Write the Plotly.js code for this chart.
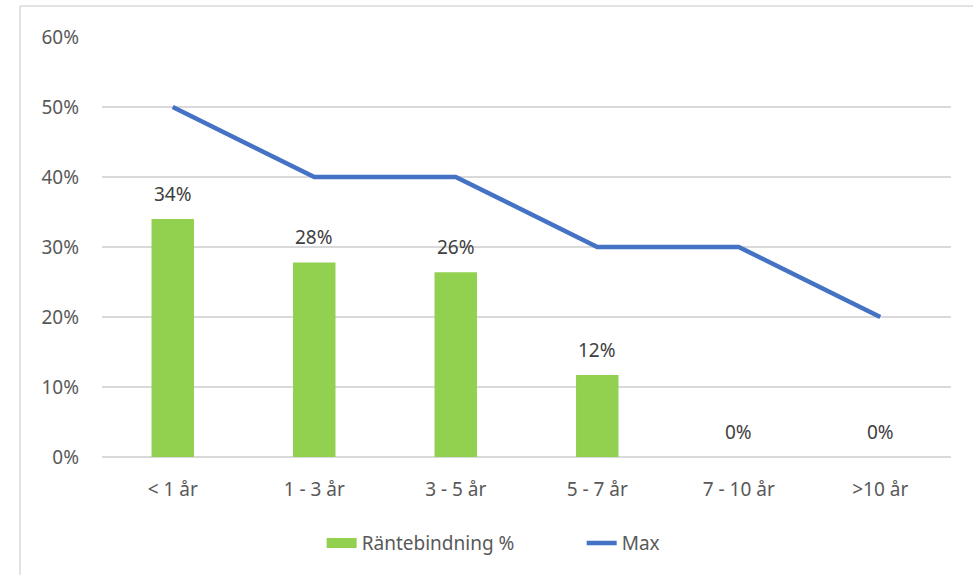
<!DOCTYPE html>
<html>
<head>
<meta charset="utf-8">
<script src="https://cdn.plot.ly/plotly-3.0.1.min.js"></script>
<style>html,body{margin:0;padding:0;background:#fff;}#chart{width:973px;height:575px;}</style>
</head>
<body>
<div id="chart"></div>
<script>
const categories = ["< 1 år", "1 - 3 år", "3 - 5 år", "5 - 7 år", "7 - 10 år", ">10 år"];
const rantebindning = [0.34, 0.278, 0.264, 0.117, 0, 0];
const maxValues = [0.5, 0.4, 0.4, 0.3, 0.3, 0.2];
const barName = "Räntebindning %";
const lineName = "Max";

const fontFam = "'Noto Sans', 'Open Sans', sans-serif";
const FS = 19;

const traces = [
  {
    type: "bar", x: categories, y: rantebindning, name: barName,
    marker: {color: "#92D050"}, hoverinfo: "skip", showlegend: false
  },
  {
    // legend entry for the bars (wide swatch like the original)
    type: "scatter", mode: "lines", x: [null], y: [null], name: barName,
    line: {color: "#92D050", width: 12}, hoverinfo: "skip", showlegend: true
  },
  {
    type: "scatter", mode: "lines", x: categories, y: maxValues, name: lineName,
    line: {color: "#4472C4", width: 4.5}, hoverinfo: "skip"
  }
];

const annotations = categories.map((c, i) => ({
  x: c, y: rantebindning[i], xref: "x", yref: "y",
  text: Math.round(rantebindning[i] * 100) + "%",
  showarrow: false, yanchor: "bottom", yshift: 10,
  font: {family: fontFam, size: FS, color: "#404040"}
}));

const layout = {
  width: 973, height: 575,
  margin: {l: 102, r: 22, t: 37, b: 118},
  paper_bgcolor: "#fff", plot_bgcolor: "#fff",
  font: {family: fontFam, size: FS, color: "#595959"},
  bargap: 0.7,
  showlegend: true,
  legend: {orientation: "h", x: 0.565, xanchor: "center", y: -0.205, yanchor: "middle",
           entrywidth: 215, entrywidthmode: "pixels",
           font: {family: fontFam, size: FS, color: "#595959"}, traceorder: "normal"},
  xaxis: {type: "category", showgrid: false, showline: false, zeroline: false, ticks: "",
          ticklabelstandoff: 19,
          tickfont: {family: fontFam, size: FS, color: "#595959"}, automargin: false},
  yaxis: {range: [0, 0.6], dtick: 0.1, tickformat: ".0%", showgrid: true, gridcolor: "#D9D9D9",
          gridwidth: 1.5, zeroline: true, zerolinecolor: "#D9D9D9", zerolinewidth: 1.5,
          showline: false, ticks: "", ticklabelstandoff: 22,
          tickfont: {family: fontFam, size: FS, color: "#595959"}, automargin: false},
  annotations: annotations,
  shapes: [
    {type: "line", xref: "paper", yref: "paper", x0: -0.0966, x1: -0.0966, y0: -0.3, y1: 1.0738,
     line: {color: "#D9D9D9", width: 1.5}},
    {type: "line", xref: "paper", yref: "paper", x0: -0.0966, x1: 1.1, y0: 1.0738, y1: 1.0738,
     line: {color: "#D9D9D9", width: 1.5}}
  ]
};

Plotly.newPlot("chart", traces, layout, {displayModeBar: false, staticPlot: true});
</script>
</body>
</html>
